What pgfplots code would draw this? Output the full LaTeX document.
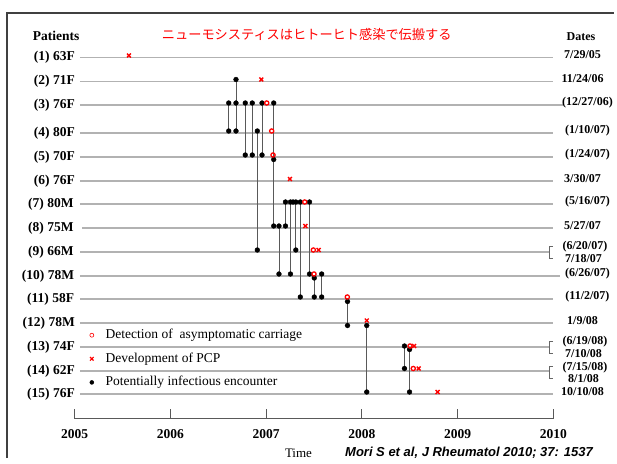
\documentclass[border=0pt]{standalone}
\usepackage{fontspec}
\setmainfont{Liberation Serif}
\newfontfamily\jpfont{Noto Sans CJK JP}
\newfontfamily\sansf{Liberation Sans}
\usepackage{pgfplots}
\usepackage{pgfplotstable}
\pgfplotsset{compat=1.18}

% patient timelines (x = year, y = vertical position in the figure)
\pgfplotstableread{
x y
2005.055 57.5
2009.997 57.5
nan nan
2005.055 81.5
2009.997 81.5
nan nan
2005.055 105
2010.101 105
nan nan
2005.055 133
2009.997 133
nan nan
2005.055 157
2009.997 157
nan nan
2005.055 181
2009.997 181
nan nan
2005.055 204
2009.997 204
nan nan
2005.076 228
2009.997 228
nan nan
2005.055 252
2009.958 252
nan nan
2005.055 276
2010.070 276
nan nan
2005.055 299
2009.997 299
nan nan
2005.055 323
2009.997 323
nan nan
2005.055 347
2009.958 347
nan nan
2005.055 371
2009.958 371
nan nan
2005.055 394
2009.997 394
}\rowlines

\pgfplotstableread{
x y
2006.609 103
2006.609 131
nan nan
2006.685 79.5
2006.685 131
nan nan
2006.782 103
2006.782 155
nan nan
2006.855 103
2006.855 155
nan nan
2006.957 103
2006.957 155
nan nan
2006.908 131
2006.908 250
nan nan
2007.079 103
2007.079 226
nan nan
2007.134 226
2007.134 274
nan nan
2007.202 202
2007.202 226
nan nan
2007.254 202
2007.254 274
nan nan
2007.310 202
2007.310 250
nan nan
2007.357 202
2007.357 297
nan nan
2007.453 202
2007.453 274
nan nan
2007.503 278
2007.503 297
nan nan
2007.580 274
2007.580 297
nan nan
2007.850 301.5
2007.850 325.5
nan nan
2008.051 325.5
2008.051 392
nan nan
2008.445 346
2008.445 368.5
nan nan
2008.498 349.5
2008.498 392
}\links

\pgfplotstableread{
x y
2006.685 79.5
2006.609 103
2006.685 103
2006.782 103
2006.855 103
2006.957 103
2007.079 103
2006.609 131
2006.685 131
2006.908 131
2006.782 155
2006.855 155
2006.957 155
2007.079 159.5
2007.202 202
2007.254 202
2007.281 202
2007.310 202
2007.357 202
2007.453 202
2007.079 226
2007.134 226
2007.202 226
2006.908 250
2007.310 250
2007.134 274
2007.254 274
2007.453 274
2007.580 274
2007.503 278
2007.357 297
2007.503 297
2007.580 297
2007.850 301.5
2007.850 325.5
2008.051 325.5
2008.445 346
2008.498 349.5
2008.445 368.5
2008.051 392
2008.498 392
}\encounters

\pgfplotstableread{
x y
2007.006 103
2007.058 131
2007.072 155
2007.403 202
2007.493 250
2007.500 274
2007.848 297
2008.503 346
2008.537 368.5
}\carriage

\pgfplotstableread{
x y
2005.567 55.5
2006.949 79.5
2007.249 179
2007.409 226
2007.549 250
2008.051 320.5
2008.545 346
2008.594 368.5
2008.792 392
}\pcp

\begin{document}
\begin{tikzpicture}
\useasboundingbox (0pt,0pt) rectangle (617pt,463pt);
\begin{axis}[
  at={(0pt,0pt)}, anchor=south west,
  width=617pt, height=463pt, scale only axis,
  xmin=2004.2196, xmax=2010.6655,
  ymin=0, ymax=463, y dir=reverse,
  hide axis, clip=false,
  legend style={at={(axis description cs:0.1383,0.2905)}, anchor=north west,
    draw=none, fill=none, inner sep=0pt, row sep=10.6pt,
    font=\fontsize{13.5}{16}\selectfont,
    nodes={inner sep=0pt, text height=10pt, text depth=3pt}},
  legend cell align=left,
  legend image code/.code={\path (-5.7pt,0pt) (13.3pt,0pt);
    \draw[mark repeat=1,#1] plot coordinates {(0pt,0pt)};},
]
% slide frame (top and left edges)
\addplot[forget plot, black!75, line width=1.8pt] coordinates {(2004.2896,458) (2004.2896,13.3) (2010.63,13.3)};
\addplot[forget plot, black!30, line width=1.3pt, unbounded coords=jump] table {\rowlines};
\addplot[forget plot, black!65, line width=0.9pt, unbounded coords=jump] table {\links};
\addplot[forget plot, only marks, mark=*, mark size=2.4pt, black] table {\encounters};
\addplot[forget plot, only marks, mark=o, mark size=2.1pt, red, line width=1.3pt,
  mark options={fill=white}] table {\carriage};
\addplot[forget plot, only marks, mark=x, mark size=2.8pt, red, line width=1.4pt] table {\pcp};

\addlegendimage{only marks, mark=o, mark size=2pt, red, line width=0.6pt}
\addlegendentry{Detection of\ \ asymptomatic carriage}
\addlegendimage{only marks, mark=x, mark size=2.5pt, red, line width=1.2pt}
\addlegendentry{Development of PCP}
\addlegendimage{only marks, mark=*, mark size=2pt, black}
\addlegendentry{Potentially infectious encounter}

% title and headers
\node[text=red, font=\jpfont\fontsize{13.2}{14}\selectfont] at (axis cs:2007.424,34.7) {ニューモシスティスはヒトーヒト感染で伝搬する};
\node[font=\fontsize{13.5}{14}\selectfont\bfseries] at (axis cs:2004.805,36) {Patients};
\node[font=\fontsize{12}{13}\selectfont\bfseries] at (axis cs:2010.289,37) {Dates};

% patient labels
\begin{scope}[every node/.style={anchor=east, inner sep=0pt, font=\fontsize{13.5}{14}\selectfont\bfseries}]
\node at (axis cs:2005.003,57.5) {(1) 63F};
\node at (axis cs:2005.003,81.5) {(2) 71F};
\node at (axis cs:2005.003,105) {(3) 76F};
\node at (axis cs:2005.003,133) {(4) 80F};
\node at (axis cs:2005.003,157) {(5) 70F};
\node at (axis cs:2005.003,181) {(6) 76F};
\node at (axis cs:2004.990,204) {(7) 80M};
\node at (axis cs:2004.990,228) {(8) 75M};
\node at (axis cs:2004.990,252) {(9) 66M};
\node at (axis cs:2004.995,276) {(10) 78M};
\node at (axis cs:2004.995,299) {(11) 58F};
\node at (axis cs:2005.003,323) {(12) 78M};
\node at (axis cs:2005.003,347) {(13) 74F};
\node at (axis cs:2005.003,371) {(14) 62F};
\node at (axis cs:2005.003,394) {(15) 76F};
\end{scope}

% dates
\begin{scope}[every node/.style={inner sep=0pt, font=\fontsize{12}{13}\selectfont\bfseries}]
\node at (axis cs:2010.305,55) {7/29/05};
\node at (axis cs:2010.305,79) {11/24/06};
\node at (axis cs:2010.357,102.5) {(12/27/06)};
\node at (axis cs:2010.357,130.5) {(1/10/07)};
\node at (axis cs:2010.357,154.5) {(1/24/07)};
\node at (axis cs:2010.305,178.5) {3/30/07};
\node at (axis cs:2010.357,202) {(5/16/07)};
\node at (axis cs:2010.305,225.5) {5/27/07};
\node at (axis cs:2010.331,247) {(6/20/07)};
\node at (axis cs:2010.316,258.5) {7/18/07};
\node at (axis cs:2010.357,274) {(6/26/07)};
\node at (axis cs:2010.357,296.5) {(11/2/07)};
\node at (axis cs:2010.305,320.5) {1/9/08};
\node at (axis cs:2010.331,342) {(6/19/08)};
\node at (axis cs:2010.316,353.5) {7/10/08};
\node at (axis cs:2010.331,367.5) {(7/15/08)};
\node at (axis cs:2010.316,379) {8/1/08};
\node at (axis cs:2010.305,392) {10/10/08};
\end{scope}

% brackets
\draw[black!60, line width=0.7pt] (axis cs:2009.997,246) -- (axis cs:2009.958,246) -- (axis cs:2009.958,258) -- (axis cs:2009.997,258);
\draw[black!60, line width=0.7pt] (axis cs:2009.997,341) -- (axis cs:2009.958,341) -- (axis cs:2009.958,353) -- (axis cs:2009.997,353);
\draw[black!60, line width=0.7pt] (axis cs:2009.997,366) -- (axis cs:2009.958,366) -- (axis cs:2009.958,378) -- (axis cs:2009.997,378);

% time axis
\draw[black!65, line width=0.9pt] (axis cs:2005,409) -- (axis cs:2005,418.3) -- (axis cs:2010,418.3) -- (axis cs:2010,409);
\draw[black!65, line width=0.9pt] (axis cs:2006,409) -- (axis cs:2006,418.3);
\draw[black!65, line width=0.9pt] (axis cs:2007,409) -- (axis cs:2007,418.3);
\draw[black!65, line width=0.9pt] (axis cs:2008,409) -- (axis cs:2008,418.3);
\draw[black!65, line width=0.9pt] (axis cs:2009,409) -- (axis cs:2009,418.3);
\begin{scope}[every node/.style={font=\fontsize{13.5}{14}\selectfont\bfseries}]
\node at (axis cs:2005,434.3) {2005};
\node at (axis cs:2006,434.3) {2006};
\node at (axis cs:2007,434.3) {2007};
\node at (axis cs:2008,434.3) {2008};
\node at (axis cs:2009,434.3) {2009};
\node at (axis cs:2010,434.3) {2010};
\end{scope}
\node[font=\fontsize{13}{14}\selectfont] at (axis cs:2007.338,453) {Time};
\node[font=\sansf\fontsize{13}{14}\selectfont\bfseries\itshape] at (axis cs:2009.119,453) {Mori S et al, J Rheumatol 2010; 37: 1537};
\end{axis}
\end{tikzpicture}
\end{document}
